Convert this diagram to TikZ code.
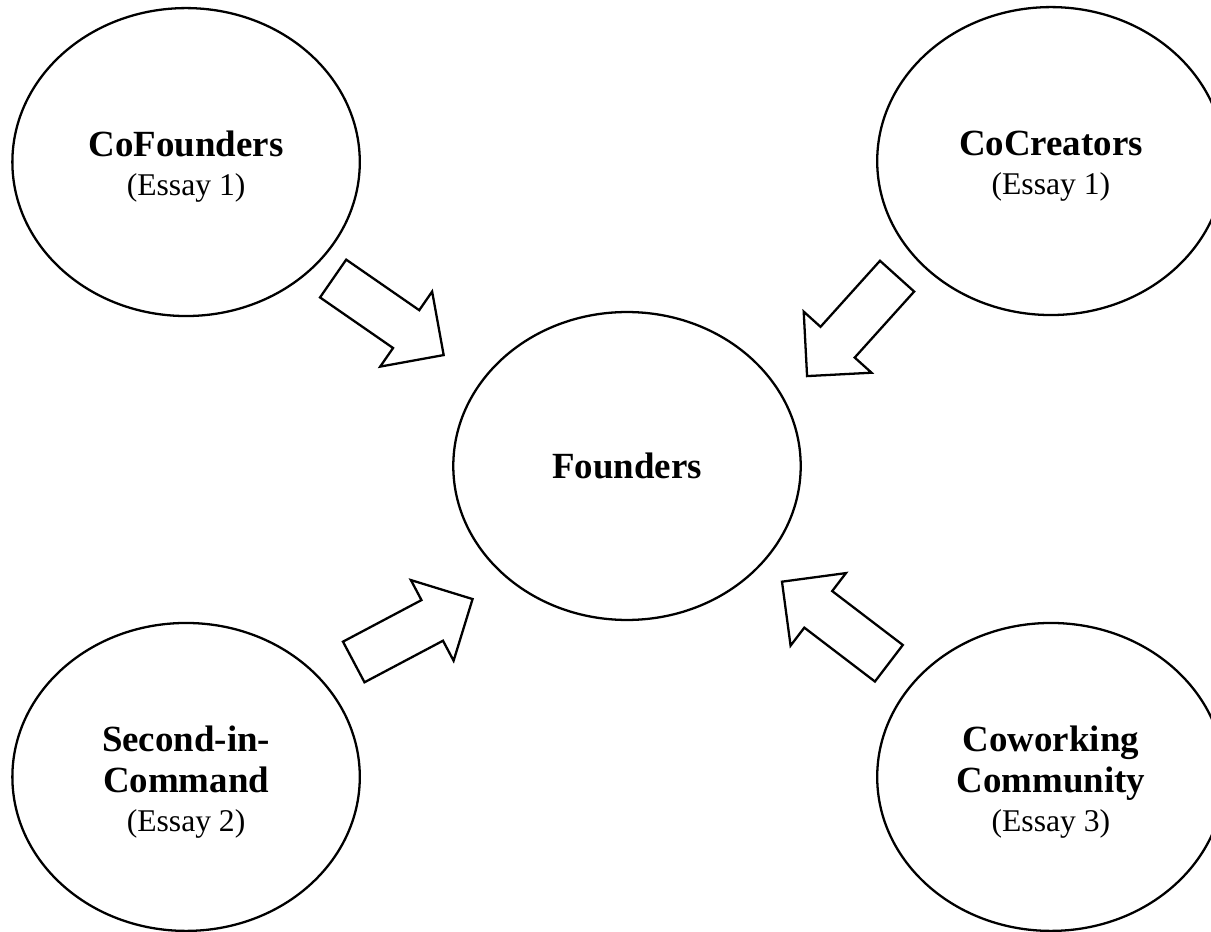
\documentclass[tikz,border=0pt]{standalone}
\usepackage{fontspec}
\setmainfont{Liberation Serif}
\usetikzlibrary{shapes.geometric,shapes.arrows,positioning}
\newcommand{\essaynote}[1]{{\fontsize{18}{23.6}\selectfont\mdseries (Essay #1)}}
\newcommand{\topgap}{\rule{0pt}{20pt}}

\begin{document}
\begin{tikzpicture}[x=0.02cm, y=-0.02cm,
bubble/.style = {draw, ellipse, line width=1.3pt, minimum width=6.95cm, minimum height=6.16cm, inner sep=0pt, align=center, font=\fontsize{21}{23.6}\selectfont\bfseries},
bigarrow/.style = {draw, single arrow, line width=1.3pt, minimum height=2.69cm, inner xsep=0pt, inner ysep=0.437cm, single arrow head extend=0.453cm, anchor=tip},
on grid
]

    \useasboundingbox (0,0) rectangle (1211,932);

    \node [bubble] (found) at (627,466) {Founders};

    \node [bubble, above left=6.08cm and 8.82cm of found] (cofound) {\topgap CoFounders\\[-1.6pt]\essaynote{1}};
    \node [bubble, above right=6.1cm and 8.48cm of found] (cocreate) {\topgap CoCreators\\[-1.6pt]\essaynote{1}};
    \node [bubble, below left=6.22cm and 8.82cm of found] (second) {\topgap Second-in-\\Command\\[-1.6pt]\essaynote{2}};
    \node [bubble, below right=6.22cm and 8.48cm of found] (cowork) {\topgap Coworking\\Community\\[-1.6pt]\essaynote{3}};

    \node [bigarrow, rotate=-34.7] (arrcofound) at (445,356) {};
    \node [bigarrow, rotate=-132] (arrcocreate) at (806,377.3) {};
    \node [bigarrow, rotate=27.9] (arrsecond) at (474,598.3) {};
    \node [bigarrow, rotate=142.65] (arrcowork) at (780.7,580.7) {};

\end{tikzpicture}
\end{document}
